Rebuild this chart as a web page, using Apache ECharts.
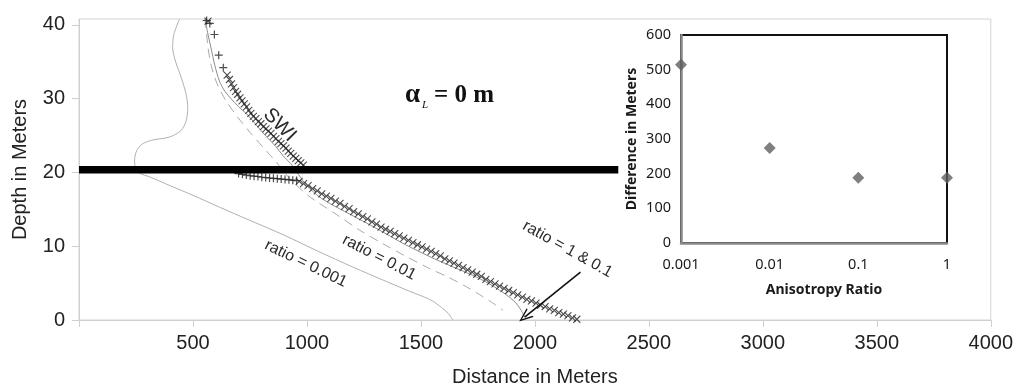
<!DOCTYPE html>
<html>
<head>
<meta charset="utf-8">
<script src="https://cdn.jsdelivr.net/npm/echarts@6/dist/echarts.min.js"></script>
<style>html,body{margin:0;padding:0;background:#fff;}#c{width:1016px;height:392px;}</style>
</head>
<body>
<div id="c"></div>
<script>
// ---- main chart data: [distance (m), depth (m)] ----
const xTicks = [0, 500, 1000, 1500, 2000, 2500, 3000, 3500, 4000];
const yTicks = [0, 10, 20, 30, 40];

const ratio0001 = [[441,40.8],[416,38.7],[411,36.9],[423,35.1],[448,32.9],[470,30.6],[477,28.8],[470,27.0],[448,25.7],[397,24.8],[324,24.4],[280,23.9],[254,23.0],[244,21.7],[248,20.6],[266,19.9],[310,19.4],[400,18.2],[500,16.9],[616,15.3],[750,13.5],[900,11.5],[1050,9.3],[1200,7.2],[1350,5.2],[1450,3.9],[1500,3.3],[1550,2.6],[1590,1.7],[1620,0.9],[1640,0.0]];

const ratio001 = [[552,40.8],[560,38.7],[566,36.9],[580,34.5],[601,32.4],[625,30.8],[645,29.7],[696,27.5],[754,25.3],[805,23.5],[840,22.3],[864,21.5],[885,20.6],[900,20.0],[950,18.4],[1000,17.0],[1050,15.9],[1130,14.3],[1230,12.2],[1330,10.4],[1430,8.7],[1530,7.1],[1620,5.8],[1700,4.5],[1770,3.2],[1820,2.2],[1860,1.3]];

const ratio1and01 = [[554,40.8],[564,39.0],[579,36.9],[596,34.5],[616,32.4],[640,31.0],[667,30.0],[700,28.9],[733,28.0],[765,26.9],[798,25.7],[830,24.6],[864,23.5],[897,22.2],[929,21.2],[950,20.3],[975,19.2],[1000,18.2],[1050,16.8],[1100,15.8],[1185,14.4],[1300,12.5],[1433,10.2],[1580,8.0],[1724,6.1],[1800,4.9],[1871,3.5],[1914,2.4],[1940,1.3],[1955,0.4]];

const swiPlus = [[560,40.6],[574,40.2],[594,38.7],[613,35.9],[633,34.2],
  [700,19.85],[717,19.75],[734,19.65],[751,19.55],[768,19.5],[785,19.45],[802,19.35],[819,19.3],[836,19.25],[853,19.2],[870,19.15],[887,19.1],[904,19.05],[921,19.0],[938,18.95],[955,18.9]];

const swiCross = [[566,40.5],[650,33.2],[660,32.6],[669,32.0],[678,31.5],[687,31.0],[696,30.6],[706,30.1],[715,29.7],[725,29.3],[735,28.9],[745,28.4],[754,28.0],[765,27.6],[776,27.3],[787,26.9],[798,26.6],[809,26.2],[820,25.9],[831,25.6],[842,25.3],[853,24.9],[864,24.6],[875,24.2],[886,23.9],[897,23.6],[908,23.3],[918,22.9],[929,22.6],[940,22.2],[951,21.9],[962,21.6],[973,21.3],[984,21.0],
  [966,18.8],[985,18.5],[1005,18.2],[1025,17.8],[1045,17.5],[1065,17.1],[1085,16.8],[1105,16.5],[1125,16.1],[1145,15.8],[1165,15.4],[1185,15.1],[1205,14.7],[1225,14.4],[1245,14.0],[1265,13.7],[1285,13.3],[1305,13.0],[1325,12.6],[1345,12.3],[1365,12.0],[1385,11.7],[1405,11.4],[1425,11.1],[1445,10.8],[1465,10.5],[1485,10.2],[1505,9.9],[1525,9.6],[1545,9.3],[1565,9.0],[1585,8.7],[1605,8.3],[1625,8.0],[1645,7.7],[1665,7.4],[1685,7.1],[1705,6.8],[1725,6.5],[1745,6.2],[1765,5.9],[1785,5.5],[1805,5.2],[1825,4.9],[1845,4.6],[1865,4.3],[1885,4.0],[1905,3.7],[1925,3.4],[1945,3.1],[1965,2.8],[1985,2.6],[2005,2.3],[2025,2.0],[2045,1.8],[2065,1.5],[2085,1.3],[2105,1.0],[2125,0.8],[2145,0.6],[2165,0.3],[2184,0.1]];

const barrier = [[0,20.36],[2366,20.36]];
const arrowFrom = [2200, 6.5];
const arrowTo = [1955, 0.4];

// ---- inset data ----
const insetCategories = ['0.001', '0.01', '0.1', '1'];
const insetValues = [514, 274, 188, 188];

const chart = echarts.init(document.getElementById('c'), null, {renderer: 'canvas'});
const axisTxt = {fontFamily: '"Liberation Sans", Arial, sans-serif', fontSize: 20, color: '#222'};
const insetTxt = {fontFamily: '"Noto Sans", sans-serif', fontSize: 14.5, color: '#1a1a1a'};
const plusPath = 'path://M5,0L5,10M0,5L10,5';
const crossPath = 'path://M0,0L10,10M10,0L0,10';
const arrowHead = 'path://M5,0L10,12L8.6,12L5,3L1.4,12L0,12Z';

chart.setOption({
  animation: false,
  backgroundColor: '#fff',
  grid: [
    {left: 79, right: 25, top: 19, bottom: 69, show: true, borderColor: '#d4d4d4', borderWidth: 1},
    {left: 681, right: 69, top: 35, bottom: 149, show: true, borderColor: '#111', borderWidth: 2}
  ],
  xAxis: [
    {gridIndex: 0, type: 'value', min: 0, max: 4000, interval: 500,
     name: 'Distance in Meters', nameLocation: 'middle', nameGap: 47,
     nameTextStyle: axisTxt,
     axisLine: {show: true, lineStyle: {color: '#cfcfcf', width: 1}},
     axisTick: {show: true, length: 7, lineStyle: {color: '#cfcfcf'}},
     splitLine: {show: false},
     axisLabel: Object.assign({margin: 13, formatter: v => v === 0 ? '' : String(v)}, axisTxt)},
    {gridIndex: 1, type: 'category', data: insetCategories, boundaryGap: false,
     name: 'Anisotropy Ratio', nameLocation: 'middle', nameGap: 40,
     nameTextStyle: Object.assign({}, insetTxt, {fontSize: 14, fontWeight: 'bold', padding: [0, 0, 0, 20]}),
     axisLine: {show: true, lineStyle: {color: '#8a8a8a', width: 2.5}},
     axisTick: {show: false}, splitLine: {show: false},
     axisLabel: Object.assign({margin: 14}, insetTxt)}
  ],
  yAxis: [
    {gridIndex: 0, type: 'value', min: 0, max: 40.8, interval: 10,
     name: 'Depth in Meters', nameLocation: 'middle', nameGap: 49,
     nameTextStyle: axisTxt,
     axisLine: {show: true, lineStyle: {color: '#cfcfcf', width: 1}},
     axisTick: {show: true, length: 7, customValues: yTicks, lineStyle: {color: '#cfcfcf'}},
     splitLine: {show: false},
     axisLabel: Object.assign({margin: 14, customValues: yTicks}, axisTxt)},
    {gridIndex: 1, type: 'value', min: 0, max: 600, interval: 100,
     name: 'Difference in Meters', nameLocation: 'middle', nameGap: 42,
     nameTextStyle: Object.assign({}, insetTxt, {fontSize: 14, fontWeight: 'bold'}),
     axisLine: {show: true, lineStyle: {color: '#8a8a8a', width: 2.5}},
     axisTick: {show: false}, splitLine: {show: false},
     axisLabel: Object.assign({margin: 10}, insetTxt)}
  ],
  series: [
    {name: 'ratio = 0.001', type: 'line', xAxisIndex: 0, yAxisIndex: 0, data: ratio0001, smooth: 0.3,
     showSymbol: false, lineStyle: {color: '#b0b0b0', width: 1}, z: 2},
    {name: 'ratio = 0.01', type: 'line', xAxisIndex: 0, yAxisIndex: 0, data: ratio001, smooth: 0.3,
     showSymbol: false, lineStyle: {color: '#a8a8a8', width: 1, type: [9, 6]}, z: 2},
    {name: 'ratio = 1 & 0.1', type: 'line', xAxisIndex: 0, yAxisIndex: 0, data: ratio1and01, smooth: 0.3,
     showSymbol: false, lineStyle: {color: '#8c8c8c', width: 1}, z: 2,
     markLine: {silent: true, symbol: ['none', arrowHead], symbolSize: [11, 14], label: {show: false},
       lineStyle: {color: '#111', width: 1.6, type: 'solid'},
       data: [[{coord: arrowFrom}, {coord: arrowTo}]]}},
    {name: 'SWI +', type: 'scatter', xAxisIndex: 0, yAxisIndex: 0, data: swiPlus, symbol: plusPath, symbolSize: 8,
     itemStyle: {color: 'rgba(0,0,0,0)', borderColor: '#222', borderWidth: 1.2}, z: 3},
    {name: 'SWI x', type: 'scatter', xAxisIndex: 0, yAxisIndex: 0, data: swiCross, symbol: crossPath, symbolSize: 7,
     itemStyle: {color: 'rgba(0,0,0,0)', borderColor: '#222', borderWidth: 1.1}, z: 3},
    {name: 'barrier', type: 'line', xAxisIndex: 0, yAxisIndex: 0, data: barrier, showSymbol: false,
     lineStyle: {color: '#000', width: 7.5, cap: 'butt'}, z: 5},
    {name: 'Difference', type: 'scatter', xAxisIndex: 1, yAxisIndex: 1, data: insetValues,
     symbol: 'diamond', symbolSize: [12, 12], itemStyle: {color: '#5f5f5f'}, z: 6}
  ],
  graphic: [
    {type: 'text', x: 279.6, y: 125, rotation: -0.80, z: 10,
     style: {text: 'SWI', font: '20px "Liberation Sans", Arial, sans-serif', fill: '#2a2a2a', align: 'center', verticalAlign: 'middle'}},
    {type: 'text', x: 305.8, y: 263.8, rotation: -0.45, z: 10,
     style: {text: 'ratio = 0.001', font: '16px "Liberation Sans", Arial, sans-serif', fill: '#2a2a2a', align: 'center', verticalAlign: 'middle'}},
    {type: 'text', x: 379.2, y: 257.5, rotation: -0.48, z: 10,
     style: {text: 'ratio = 0.01', font: '16px "Liberation Sans", Arial, sans-serif', fill: '#2a2a2a', align: 'center', verticalAlign: 'middle'}},
    {type: 'text', x: 567.5, y: 249.2, rotation: -0.51, z: 10,
     style: {text: 'ratio = 1 & 0.1', font: '16px "Liberation Sans", Arial, sans-serif', fill: '#2a2a2a', align: 'center', verticalAlign: 'middle'}},
    {type: 'text', x: 405, y: 95, z: 10,
     style: {text: 'α', font: 'bold 27px "Liberation Serif", "DejaVu Serif", serif', fill: '#111', align: 'left', verticalAlign: 'middle'}},
    {type: 'text', x: 422, y: 105, z: 10,
     style: {text: 'L', font: 'italic 11px "Liberation Serif", serif', fill: '#111', align: 'left', verticalAlign: 'middle'}},
    {type: 'text', x: 434, y: 95.5, z: 10,
     style: {text: '= 0 m', font: 'bold 25px "Liberation Serif", "DejaVu Serif", serif', fill: '#111', align: 'left', verticalAlign: 'middle'}}
  ]
});
</script>
</body>
</html>
